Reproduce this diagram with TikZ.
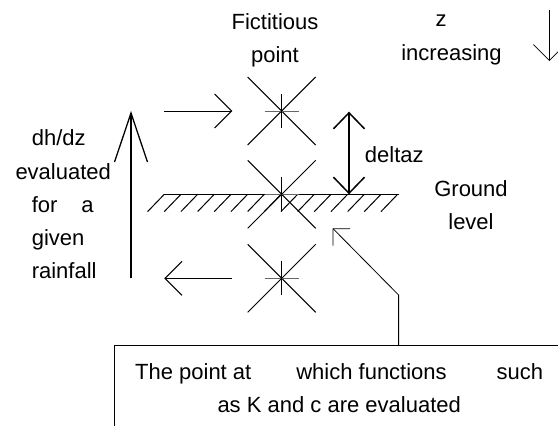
\documentclass[tikz,border=0pt]{standalone}
\usepackage{fontspec}
\setmainfont{Liberation Sans}
\usetikzlibrary{arrows.meta}

\begin{document}
\begin{tikzpicture}[x=1pt,y=-1pt,line width=1pt,
  txt/.style={font=\fontsize{22}{33.3}\selectfont, align=center, inner sep=0},
  barb/.style={-{Straight Barb[length=17pt,width=34pt]}}]

\useasboundingbox (0,0) rectangle (558,426);

% the three points
\coordinate (ptop) at (281.7,111);
\coordinate (pmid) at (281.7,194.3);
\coordinate (pbot) at (281.7,278.3);

% ground level
\draw [line width=1.4pt] (164.3,194.3) -- (399,194.3);
\foreach \i in {0,...,14}
  \draw (164.3+16.67*\i,194.3) -- ++(-16.7,17.3);

\foreach \p in {ptop,pmid,pbot} {
  \draw (\p) ++(-34,-34) -- ++(68,68);
  \draw (\p) ++(-34,34) -- ++(68,-68);
  \draw [black!60] (\p) ++(-17,0) -- ++(34,0);
  \draw [line width=1.3pt] (\p) ++(0,-17) -- ++(0,34);
}

% flux arrows
\coordinate (inl) at (164.3,111);
\coordinate (inr) at (232.3,111);
\coordinate (outl) at (164.3,278.3);
\coordinate (outr) at (231.7,278.3);
\draw [barb] (inl) -- (inr);
\draw [barb] (outr) -- (outl);

% gradient arrow
\coordinate (grlow) at (131,278.3);
\coordinate (grhigh) at (131,111);
\draw [-{Straight Barb[length=49pt,width=33pt]}, line width=1.3pt] (grlow) -- (grhigh);

% deltaz
\coordinate (dzlow) at (349,194.3);
\coordinate (dzhigh) at (349,111.7);
\draw [{Straight Barb[length=16pt,width=31pt]}-{Straight Barb[length=16pt,width=31pt]}, line width=1.5pt] (dzlow) -- (dzhigh);

% z direction
\coordinate (ztail) at (549.3,10);
\coordinate (ztip) at (549.3,61);
\draw [-{Straight Barb[length=16pt,width=32pt]}, line width=0.7pt] (ztail) -- (ztip);

\node (fict) [txt] at (275,40) {Fictitious\\point};
\node (zinc) [txt] at (451.5,40) {z\hspace*{21pt}\\increasing};
\node (ground) [txt] at (471,205) {Ground\\level};
\node (deltaz) [txt] at (394.3,155) {deltaz};
\node (dhdz) [txt, align=left, anchor=west] at (31.3,204.5)
  {dh/dz\\\hspace*{-16.3pt}evaluated\\for\hspace{24pt}a\\given\\rainfall};

% note box
\begin{scope}
\clip (0,0) rectangle (558,426);
\node (notebox) [draw, line width=0.8pt, anchor=north west, minimum width=480pt, minimum height=110pt, inner sep=0] at (114.3,345) {};
\end{scope}
\node (notetxt) [txt] at (339.2,388.3)
  {The point at\hspace{45pt}which functions\hspace{50pt}such\\as K and c are evaluated};

\coordinate (kink) at (398.6,295);
\coordinate (aimpt) at (332.7,228.3);
\draw [-{Straight Barb[length=12pt,width=24pt]}, line width=0.8pt] (kink |- notebox.north) -- (kink) -- (aimpt);

\end{tikzpicture}
\end{document}
